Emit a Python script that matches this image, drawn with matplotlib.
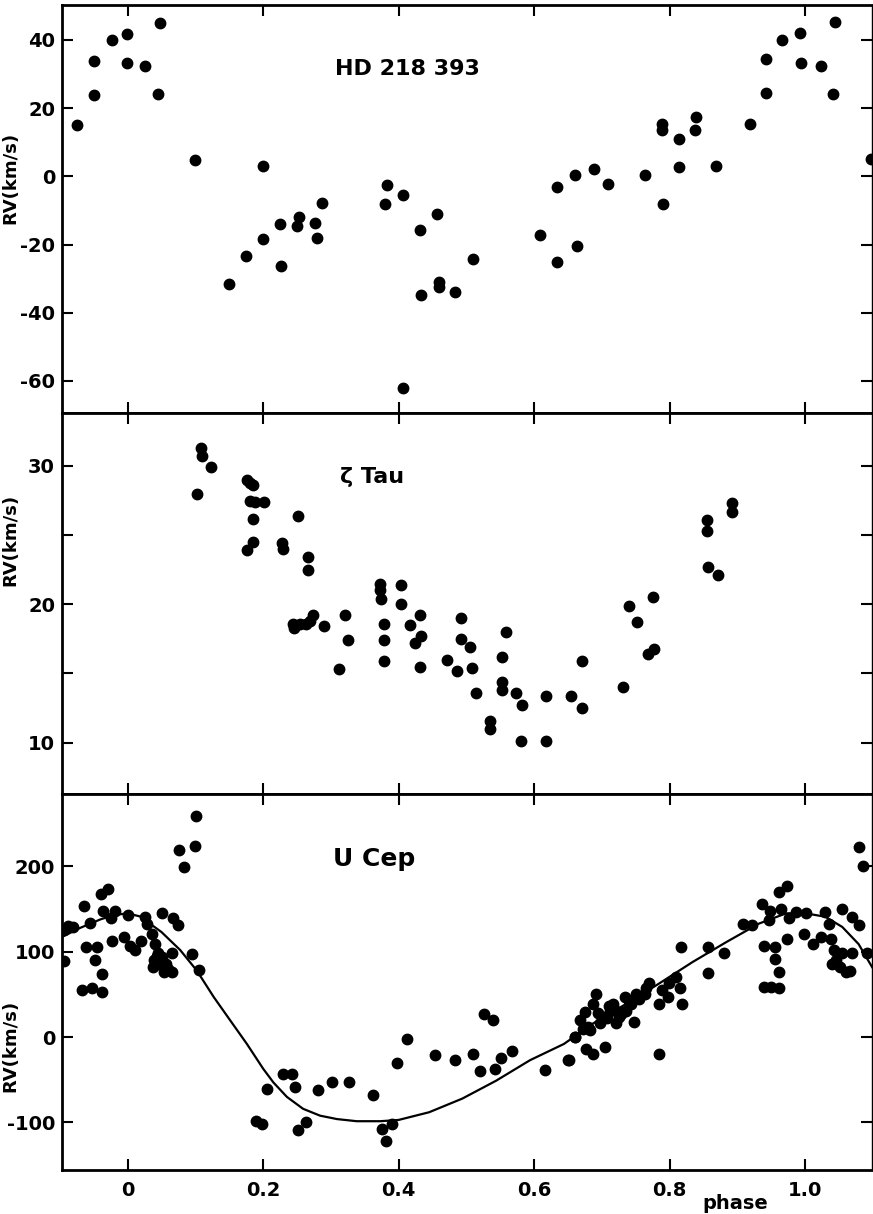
import matplotlib
matplotlib.use("Agg")
import matplotlib.pyplot as plt
import numpy as np

plt.rcParams['font.family'] = ['DejaVu Sans']
plt.rcParams['font.weight'] = 'bold'
plt.rcParams['axes.unicode_minus'] = False

# HD 218 393 (phase, RV)
hd_phase = [-0.075, -0.050, -0.050, -0.023, -0.001, -0.001, 0.026, 0.047, 0.045, 0.099,
            0.149, 0.174, 0.200, 0.1995, 0.225, 0.226, 0.253, 0.250, 0.276, 0.280,
            0.287, 0.383, 0.380, 0.406, 0.406, 0.432, 0.433, 0.456, 0.460, 0.460,
            0.483, 0.510, 0.608, 0.634, 0.634, 0.661, 0.664, 0.689, 0.709, 0.763,
            0.789, 0.789, 0.791, 0.814, 0.814, 0.839, 0.837, 0.868, 0.918, 0.943,
            0.943, 0.966, 0.992, 0.994, 1.023, 1.044, 1.041, 1.097]
hd_rv = [15.2, 33.8, 24.0, 39.9, 41.8, 33.3, 32.3, 45.1, 24.2, 4.7,
         -31.7, -23.4, 3.0, -18.5, -14.1, -26.3, -11.8, -14.6, -13.6, -18.0,
         -7.9, -2.4, -8.2, -5.5, -62.0, -15.7, -34.7, -11.1, -31.0, -32.3,
         -33.9, -24.2, -17.1, -3.2, -25.0, 0.4, -20.4, 2.1, -2.3, 0.5,
         15.5, 13.5, -8.2, 10.9, 2.8, 17.5, 13.6, 3.0, 15.4, 34.3,
         24.5, 40.1, 42.0, 33.3, 32.5, 45.4, 24.3, 5.0]

# zeta Tau
zt_phase = [0.1086, 0.1096, 0.1229, 0.1017, 0.1764, 0.1813, 0.1853, 0.1813, 0.1877, 0.2010,
            0.1853, 0.1853, 0.1764, 0.2275, 0.2295, 0.2511, 0.2663, 0.2658, 0.2442, 0.2452,
            0.2541, 0.2639, 0.2737, 0.2688, 0.2894, 0.3204, 0.3258, 0.3115, 0.3730, 0.3730,
            0.3745, 0.3779, 0.3784, 0.3779, 0.4029, 0.4039, 0.4162, 0.4310, 0.4334, 0.4246,
            0.4310, 0.4713, 0.4919, 0.4914, 0.5052, 0.4865, 0.5076, 0.5140, 0.5356, 0.5356,
            0.5582, 0.5528, 0.5528, 0.5533, 0.5730, 0.5823, 0.5813, 0.6172, 0.6172, 0.6545,
            0.6708, 0.6703, 0.7312, 0.7400, 0.7523, 0.7754, 0.7681, 0.7769, 0.8550, 0.8545,
            0.8565, 0.8717, 0.8924, 0.8924]
zt_rv = [31.3, 30.7, 29.9, 28.0, 29.0, 28.8, 28.6, 27.5, 27.4, 27.4,
         26.2, 24.5, 23.9, 24.4, 24.0, 26.4, 23.4, 22.5, 18.6, 18.25,
         18.6, 18.6, 19.2, 18.8, 18.4, 19.2, 17.4, 15.3, 21.5, 21.0,
         20.4, 18.6, 17.4, 15.9, 21.4, 20.0, 18.5, 19.2, 17.7, 17.2,
         15.5, 16.0, 19.0, 17.5, 16.9, 15.2, 15.4, 13.6, 11.6, 11.0,
         18.0, 16.2, 14.4, 13.8, 13.6, 12.7, 10.1, 13.4, 10.1, 13.4,
         12.5, 15.9, 14.0, 19.9, 18.7, 20.5, 16.4, 16.8, 26.1, 25.3,
         22.7, 22.1, 27.3, 26.7]

# U Cep observations
uc_phase = [-0.094, -0.088, -0.080, -0.094, -0.064, -0.056, -0.062, -0.046, -0.048, -0.068,
            -0.053, -0.038, -0.038, -0.039, -0.029, -0.036, -0.024, -0.018, -0.023, -0.006,
            0.001, 0.004, 0.011, 0.019, 0.025, 0.029, 0.036, 0.041, 0.045, 0.039,
            0.037, 0.051, 0.056, 0.054, 0.066, 0.066, 0.051, 0.067, 0.074, 0.076,
            0.083, 0.101, 0.100, 0.095, 0.106, 0.046, 0.060, 0.043,
            0.190, 0.198, 0.206, 0.229, 0.242, 0.247, 0.252, 0.263, 0.281, 0.301,
            0.326, 0.362, 0.375, 0.381, 0.390, 0.398, 0.413, 0.453, 0.483, 0.510,
            0.520, 0.526, 0.539, 0.542, 0.551, 0.567, 0.616, 0.651, 0.661,
            0.650, 0.660, 0.675, 0.687, 0.692, 0.672, 0.682, 0.687, 0.677, 0.704,
            0.697, 0.702, 0.712, 0.716, 0.721, 0.726, 0.734, 0.736, 0.743, 0.748,
            0.751, 0.763, 0.770, 0.765, 0.785, 0.789, 0.797, 0.799, 0.809, 0.816,
            0.818, 0.785, 0.817, 0.856, 0.857, 0.881, 0.908, 0.922, 0.936, 0.948,
            0.947, 0.962, 0.974, 0.964, 0.976, 0.987, 0.974, 0.940, 0.955, 0.955,
            0.962, 0.939, 0.950, 0.962, 1.002, 0.999, 1.011, 1.024, 1.030, 1.054,
            1.070, 1.079, 1.035, 1.038, 1.043, 1.045, 1.055, 1.052, 1.060, 1.069,
            1.067, 1.040, 1.079, 1.086, 1.092,
            0.695, 0.708, 0.718, 0.728, 0.740, 0.755, 0.668, 0.680, 0.710, 0.730]
uc_rv = [125, 130, 129, 89, 154, 134, 106, 105, 90, 55,
         57, 53, 74, 168, 174, 148, 139, 148, 113, 117,
         143, 107, 102, 113, 141, 133, 121, 109, 98, 90,
         82, 94, 86, 76, 76, 98, 145, 139, 131, 219,
         199, 259, 224, 97, 79, 86, 80, 95,
         -98, -102, -61, -43, -43, -59, -109, -99, -62, -52,
         -52, -68, -108, -122, -102, -30, -2, -21, -27, -20,
         -40, 27, 20, -37, -25, -16, -38, -27, 0,
         -27, 0, 29, 39, 50, 10, 8, -20, -14, -11,
         16, 23, 31, 39, 16, 23, 47, 31, 39, 18,
         51, 51, 63, 57, 39, 55, 47, 63, 70, 57,
         39, -20, 105, 105, 75, 98, 133, 131, 156, 148,
         137, 170, 177, 150, 139, 146, 115, 107, 106, 92,
         76, 59, 59, 57, 145, 121, 109, 117, 146, 150,
         141, 131, 133, 115, 102, 90, 98, 82, 76, 98,
         78, 86, 223, 201, 98,
         28, 22, 33, 27, 42, 45, 20, 12, 36, 30]

# U Cep fitted curve
curve_phase = [-0.098, -0.07, -0.04, -0.02, 0.0, 0.02, 0.031, 0.05, 0.0775, 0.102,
               0.127, 0.151, 0.176, 0.200, 0.215, 0.235, 0.259, 0.284, 0.309, 0.338,
               0.373, 0.40, 0.445, 0.494, 0.544, 0.594, 0.644, 0.687, 0.736, 0.785,
               0.834, 0.883, 0.932, 0.972, 1.001, 1.030, 1.055, 1.079, 1.099]
curve_rv = [117, 128, 138, 143, 145, 141, 134, 123, 102, 78,
            47, 20, -8, -37, -53, -70, -84, -92, -96, -98.5,
            -98.5, -97, -88, -72, -51, -27, -8, 16, 39, 63,
            88, 111, 133, 145, 145, 141, 129, 109, 82]

xticks = [0, 0.2, 0.4, 0.6, 0.8, 1.0]
xticklabels = ['0', '0.2', '0.4', '0.6', '0.8', '1.0']

fig = plt.figure(figsize=(8.73, 12.14), dpi=100)
gs = fig.add_gridspec(3, 1, left=0.071, right=0.999, top=0.996, bottom=0.036,
                      height_ratios=[408, 380, 376], hspace=0)
ax1 = fig.add_subplot(gs[0])
ax2 = fig.add_subplot(gs[1], sharex=ax1)
ax3 = fig.add_subplot(gs[2], sharex=ax1)

ms = 7.5
ax1.plot(hd_phase, hd_rv, 'o', color='black', ms=ms)
ax2.plot(zt_phase, zt_rv, 'o', color='black', ms=ms)
ax3.plot(uc_phase, uc_rv, 'o', color='black', ms=ms)
ax3.plot(curve_phase, curve_rv, '-', color='black', lw=1.6)

ax1.set_ylim(-69.5, 50.3)
ax1.set_yticks([40, 20, 0, -20, -40, -60])
ax2.set_ylim(6.3, 33.8)
ax2.set_yticks([10, 15, 20, 25, 30])
ax2.set_yticklabels(['10', '', '20', '', '30'])
ax3.set_ylim(-156, 285)
ax3.set_yticks([200, 100, 0, -100])

ax1.set_xlim(-0.097, 1.099)
ax3.set_xticks(xticks)
ax3.set_xticklabels(xticklabels)

ax1.text(0.306, 31.4, 'HD 218 393', fontsize=16, fontweight='bold', va='center')
ax2.text(0.314, 29.2, 'ζ Tau', fontsize=16, fontweight='bold', va='center')
ax3.text(0.303, 209, 'U Cep', fontsize=18, fontweight='bold', va='center')

label_y = [0.576, 0.667, 0.33]
for ax, ly in zip([ax1, ax2, ax3], label_y):
    ax.set_ylabel('RV(km/s)', fontsize=13, fontweight='bold')
    ax.yaxis.set_label_coords(-0.052, ly)
    ax.tick_params(direction='in', length=8, width=1.5, top=True, right=True,
                   labelsize=14, pad=5)
    for lab in ax.get_yticklabels():
        lab.set_fontweight('bold')
    for sp in ax.spines.values():
        sp.set_linewidth(2)
    ax.spines['right'].set_linewidth(1)

for ax in [ax1, ax2]:
    ax.tick_params(labelbottom=False)

ax3.tick_params(axis='x', pad=8)
for lab in ax3.get_xticklabels():
    lab.set_fontweight('bold')
ax3.set_xlabel('phase', fontsize=14, fontweight='bold')
ax3.xaxis.set_label_coords(0.831, -0.062)

fig.savefig('out.png', dpi=100)
